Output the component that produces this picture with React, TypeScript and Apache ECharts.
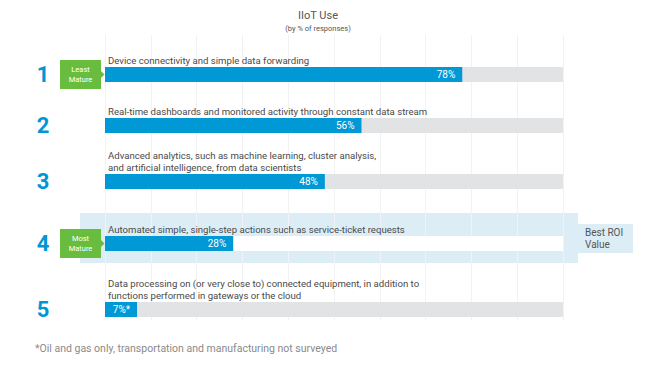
import React, { useEffect, useRef } from "react";
import * as echarts from "echarts";

const title = "IIoT Use";
const subtitle = "(by % of responses)";
const categories = [
  "Device connectivity and simple data forwarding",
  "Real-time dashboards and monitored activity through constant data stream",
  "Advanced analytics, such as machine learning, cluster analysis,\nand artificial intelligence, from data scientists",
  "Automated simple, single-step actions such as service-ticket requests",
  "Data processing on (or very close to) connected equipment, in addition to\nfunctions performed in gateways or the cloud",
];
const values = [78, 56, 48, 28, 7];
const rankLabels = ["1", "2", "3", "4", "5"];
const valueSuffixes = ["%", "%", "%", "%", "%*"];
const maturityLabels = ["Least\nMature", "", "", "Most\nMature", ""];
const highlightLabel = "Best ROI\nValue";
const highlightIndex = 3;
const footnote = "*Oil and gas only, transportation and manufacturing not surveyed";

const FONT = "Roboto, 'Noto Sans', sans-serif";
const BAR_TOPS = [67, 118, 174, 236, 302];
const BAR_H = 15;
const LEFT = 105;
const WIDTH = 458;
const BLUE = "#0099d6";
const GREEN = "#68bd3e";
const BAND = "#dcedf6";

export default function App() {
  const ref = useRef<HTMLDivElement>(null);
  useEffect(() => {
    if (!ref.current) return;
    const chart = echarts.init(ref.current, undefined, { renderer: "svg" });

    const grids: any[] = [{ left: LEFT, width: WIDTH, top: 35, height: 285 }];
    const xAxes: any[] = [
      {
        gridIndex: 0, type: "value", min: 0, max: 100, interval: 10,
        axisLabel: { show: false }, axisLine: { show: false }, axisTick: { show: false },
        splitLine: { show: true, lineStyle: { color: "#f1f2f3", width: 1 } },
      },
    ];
    const yAxes: any[] = [{ gridIndex: 0, type: "category", data: ["grid"], show: false }];
    const series: any[] = [
      { type: "bar", xAxisIndex: 0, yAxisIndex: 0, data: [], silent: true },
    ];
    const graphics: any[] = [];

    graphics.push({
      type: "rect", z: -10, silent: true,
      shape: { x: 80, y: 213, width: 498, height: 50 },
      style: { fill: BAND },
    });
    graphics.push({
      type: "rect", z: -10, silent: true,
      shape: { x: 578, y: 224, width: 55, height: 29 },
      style: { fill: BAND },
    });
    graphics.push({
      type: "text", x: 585, y: 238.5, z: 10,
      style: { text: highlightLabel, font: `10px ${FONT}`, fill: "#555", lineHeight: 12, textVerticalAlign: "middle" },
    });

    values.forEach((v, i) => {
      const top = BAR_TOPS[i];
      grids.push({ left: LEFT, width: WIDTH, top, height: BAR_H });
      xAxes.push({ gridIndex: i + 1, type: "value", min: 0, max: 100, show: false, splitLine: { show: false } });
      yAxes.push({ gridIndex: i + 1, type: "category", data: [categories[i]], show: false });
      series.push({
        type: "bar",
        xAxisIndex: i + 1,
        yAxisIndex: i + 1,
        data: [v],
        barWidth: BAR_H,
        showBackground: true,
        backgroundStyle: { color: i === highlightIndex ? "#ffffff" : "#e1e3e4" },
        itemStyle: { color: BLUE },
        label: {
          show: true,
          position: "insideRight",
          distance: 7,
          color: "#ffffff",
          fontSize: 10,
          fontFamily: FONT,
          formatter: (p: any) => `${p.value}${valueSuffixes[i]}`,
        },
      });
      graphics.push({
        type: "text", x: 108, y: top - 1, z: 10,
        style: {
          text: categories[i], font: `9.6px ${FONT}`, fill: "#4a4a4a",
          lineHeight: 12, textVerticalAlign: "bottom",
        },
      });
      graphics.push({
        type: "text", x: 43, y: top + BAR_H / 2, z: 10,
        style: {
          text: rankLabels[i], font: `bold 22px ${FONT}`, fill: "#0096d6",
          textAlign: "center", textVerticalAlign: "middle",
        },
      });
      if (maturityLabels[i]) {
        const cy = top + BAR_H / 2;
        graphics.push({
          type: "rect", z: 5,
          shape: { x: 60, y: cy - 14.5, width: 41, height: 29 },
          style: { fill: GREEN },
        });
        graphics.push({
          type: "polygon", z: 5,
          shape: { points: [[101, cy - 3.5], [104.5, cy], [101, cy + 3.5]] },
          style: { fill: GREEN },
        });
        graphics.push({
          type: "text", x: 80.5, y: cy, z: 10,
          style: {
            text: maturityLabels[i], font: `7.5px ${FONT}`, fill: "#ffffff",
            lineHeight: 10, textAlign: "center", textVerticalAlign: "middle",
          },
        });
      }
    });

    graphics.push({
      type: "text", x: 318, y: 15.5, z: 10,
      style: { text: title, font: `11px ${FONT}`, fill: "#555", textAlign: "center", textVerticalAlign: "middle" },
    });
    graphics.push({
      type: "text", x: 318, y: 28.5, z: 10,
      style: { text: subtitle, font: `7.5px ${FONT}`, fill: "#555", textAlign: "center", textVerticalAlign: "middle" },
    });
    graphics.push({
      type: "text", x: 35, y: 348, z: 10,
      style: { text: footnote, font: `10.5px ${FONT}`, fill: "#8a8a8a", textVerticalAlign: "middle" },
    });

    chart.setOption({
      animation: false,
      backgroundColor: "#ffffff",
      grid: grids,
      xAxis: xAxes,
      yAxis: yAxes,
      series,
      graphic: graphics,
    });
    return () => chart.dispose();
  }, []);
  return <div ref={ref} style={{ position: "fixed", left: 0, top: 0, width: 669, height: 381 }} />;
}
